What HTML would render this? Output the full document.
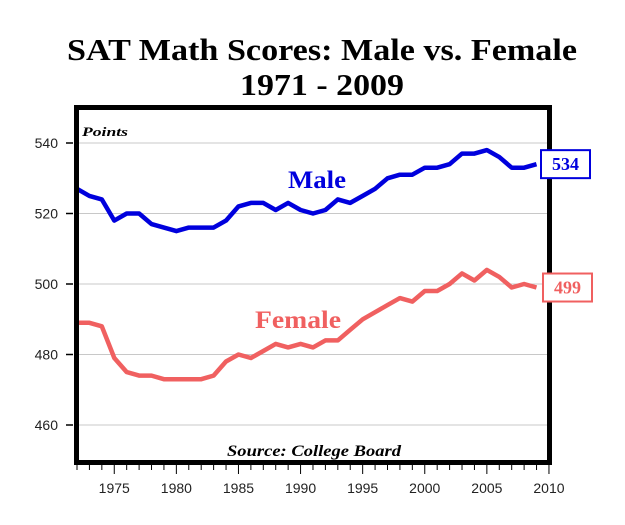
<!DOCTYPE html>
<html><head><meta charset="utf-8"><style>
body{margin:0;background:#fff;}
svg{display:block;}
</style></head><body>
<svg id="chart" width="625" height="525" xmlns="http://www.w3.org/2000/svg">
<text x="322" y="60" text-anchor="middle" font-family="Liberation Serif, serif" font-weight="bold" font-size="31" textLength="510" lengthAdjust="spacingAndGlyphs">SAT Math Scores: Male vs. Female</text>
<text x="322" y="95" text-anchor="middle" font-family="Liberation Serif, serif" font-weight="bold" font-size="31" textLength="164" lengthAdjust="spacingAndGlyphs">1971 - 2009</text>
<g id="grid"></g>
<g id="lines"></g>
<rect x="76.5" y="107.5" width="473" height="355" fill="none" stroke="#000" stroke-width="5"/>
<text x="82" y="136" font-family="Liberation Serif, serif" font-weight="bold" font-style="italic" font-size="13" textLength="46" lengthAdjust="spacingAndGlyphs">Points</text>
<text x="314" y="456" text-anchor="middle" font-family="Liberation Serif, serif" font-weight="bold" font-style="italic" font-size="16" textLength="174" lengthAdjust="spacingAndGlyphs">Source: College Board</text>
<text x="317" y="188" text-anchor="middle" font-family="Liberation Serif, serif" font-weight="bold" font-size="25" textLength="58" lengthAdjust="spacingAndGlyphs" fill="#0000dd">Male</text>
<text x="298" y="328" text-anchor="middle" font-family="Liberation Serif, serif" font-weight="bold" font-size="25" textLength="86" lengthAdjust="spacingAndGlyphs" fill="#f06060">Female</text>
<g id="axes"></g>
</svg>
<script>
const years = [1972,1973,1974,1975,1976,1977,1978,1979,1980,1981,1982,1983,1984,1985,1986,1987,1988,1989,1990,1991,1992,1993,1994,1995,1996,1997,1998,1999,2000,2001,2002,2003,2004,2005,2006,2007,2008,2009];
const maleScores = [527,525,524,518,520,520,517,516,515,516,516,516,518,522,523,523,521,523,521,520,521,524,523,525,527,530,531,531,533,533,534,537,537,538,536,533,533,534];
const femaleScores = [489,489,488,479,475,474,474,473,473,473,473,474,478,480,479,481,483,482,483,482,484,484,487,490,492,494,496,495,498,498,500,503,501,504,502,499,500,499];
const yTicks = [460,480,500,520,540];
const xTickLabels = [1975,1980,1985,1990,1995,2000,2005,2010];

const NS = "http://www.w3.org/2000/svg";
const X = yr => 77 + (yr - 1972) * 12.42;
const Y = v => 143 + (540 - v) * 3.525;
function mk(tag, attrs, parent){const e=document.createElementNS(NS,tag);for(const k in attrs)e.setAttribute(k,attrs[k]);parent.appendChild(e);return e;}
const grid=document.getElementById('grid'), lines=document.getElementById('lines'), axes=document.getElementById('axes');

yTicks.forEach(v=>{
  const g=mk('line',{x1:79,x2:548,y1:Y(v),y2:Y(v),stroke:'#c8c8c8','stroke-width':1},grid);
  
  
  const t=mk('line',{x1:66,x2:73,y1:Y(v),y2:Y(v),stroke:'#000','stroke-width':1.5},axes);
  
  
  const l=mk('text',{x:58,y:Y(v)+5,'text-anchor':'end','font-family':'Liberation Sans, sans-serif','font-size':14,fill:'#222'},axes);
  l.textContent=v;
  
  
});
for(let yr=1972; yr<=2010; yr++){
  const major = xTickLabels.includes(yr);
  const t=mk('line',{x1:X(yr),x2:X(yr),y1:465,y2:major?474:470,stroke:'#000','stroke-width':1},axes);
  
  
}
xTickLabels.forEach(yr=>{
  const l=mk('text',{x:X(yr),y:493,'text-anchor':'middle','font-family':'Liberation Sans, sans-serif','font-size':14,fill:'#222'},axes);
  l.textContent=yr;
  
  
});
function series(vals,color,name){
  const d=vals.map((v,i)=>(i?'L':'M')+X(years[i]).toFixed(1)+','+Y(v).toFixed(1)).join(' ');
  const p=mk('path',{d:d,fill:'none',stroke:color,'stroke-width':4.5,'stroke-linejoin':'round'},lines);
  
  
}
series(maleScores,'#0000dd','male-line');
series(femaleScores,'#f06060','female-line');

function endBox(val,color,name,x){
  const y=Y(val);
  const r=mk('rect',{x:x,y:y-14,width:49,height:28,fill:'#fff',stroke:color,'stroke-width':2},axes);
  
  
  const t=mk('text',{x:x+24.5,y:y+6,'text-anchor':'middle','font-family':'Liberation Serif, serif','font-weight':'bold','font-size':18,fill:color},axes);
  t.textContent=val;
  
  
}
endBox(maleScores[maleScores.length-1],'#0000dd','male-last',541);
endBox(femaleScores[femaleScores.length-1],'#f06060','female-last',543);
</script>
</body></html>
